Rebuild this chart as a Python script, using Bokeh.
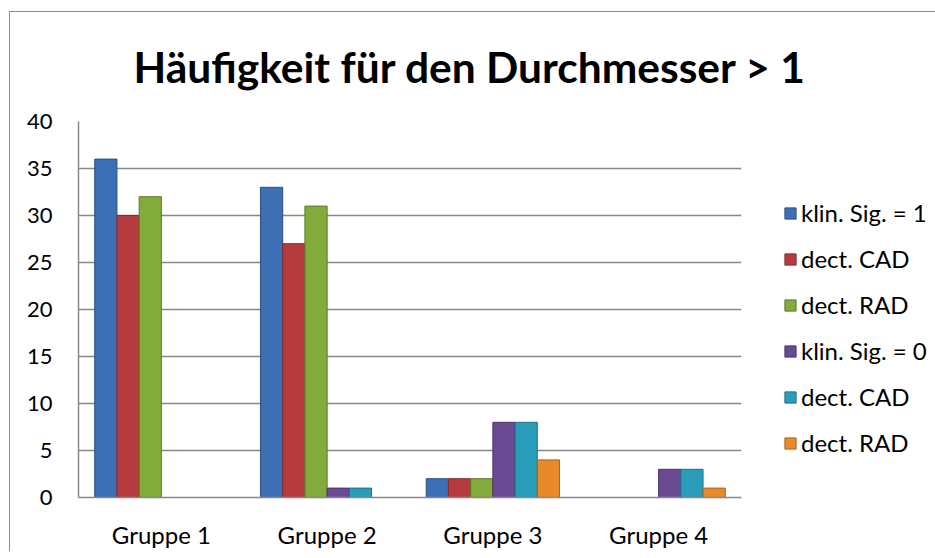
from bokeh.plotting import figure
from bokeh.models import (ColumnDataSource, FactorRange, Range1d, FixedTicker,
                          Legend, LegendItem, Title)
from bokeh.transform import dodge
from bokeh.embed import file_html
from bokeh.resources import INLINE

groups = ["Gruppe 1", "Gruppe 2", "Gruppe 3", "Gruppe 4"]
series_names = ["klin. Sig. = 1", "dect. CAD", "dect. RAD",
                "klin. Sig. = 0", "dect. CAD", "dect. RAD"]
klin_sig_1 = [36, 33, 2, 0]
dect_cad_1 = [30, 27, 2, 0]
dect_rad_1 = [32, 31, 2, 0]
klin_sig_0 = [0, 1, 8, 3]
dect_cad_0 = [0, 1, 8, 3]
dect_rad_0 = [0, 0, 4, 1]
y_ticks = [0, 5, 10, 15, 20, 25, 30, 35, 40]
title_text = "Häufigkeit für den Durchmesser > 1"

colors = ["#3D6FB5", "#B73A3E", "#82AB3B", "#6B4A94", "#2A9DBB", "#E98A2A"]
edges = ["#2A4F82", "#842A2D", "#5C7A29", "#4B336A", "#1D7086", "#A9631D"]

source = ColumnDataSource(data=dict(
    groups=groups, s0=klin_sig_1, s1=dect_cad_1, s2=dect_rad_1,
    s3=klin_sig_0, s4=dect_cad_0, s5=dect_rad_0))

FONT = "Lato"

p = figure(x_range=FactorRange(*groups, range_padding=0),
           y_range=Range1d(0, 40),
           frame_width=663, frame_height=376, output_backend="svg",
           toolbar_location=None,
           min_border_left=68, min_border_top=109,
           min_border_right=180, min_border_bottom=45)
p.outline_line_color = None
p.background_fill_color = "white"
p.border_fill_color = "white"
p.styles = {"margin-left": "9px", "margin-top": "11px",
            "border-left": "1px solid #8c8c8c", "border-top": "1px solid #8c8c8c"}

bw = 0.134
items = []
for k in range(6):
    r = p.vbar(x=dodge("groups", (k - 2.5) * bw, range=p.x_range),
               top="s%d" % k, width=bw, source=source,
               fill_color=colors[k], line_color=edges[k], line_width=1)
    items.append(LegendItem(label=series_names[k], renderers=[r]))

p.ygrid.ticker = FixedTicker(ticks=y_ticks)
p.ygrid.grid_line_color = "#888888"
p.ygrid.grid_line_width = 1.5
p.xgrid.grid_line_color = None

p.yaxis.ticker = FixedTicker(ticks=y_ticks)
p.yaxis.axis_line_color = "#888888"
p.yaxis.axis_line_width = 1.5
p.yaxis.major_tick_line_color = None
p.yaxis.minor_tick_line_color = None
p.yaxis.major_label_standoff = 20
p.yaxis.major_label_text_font = FONT
p.yaxis.major_label_text_font_size = "22px"
p.yaxis.major_label_text_color = "#000000"

p.xaxis.axis_line_color = "#888888"
p.xaxis.axis_line_width = 1.5
p.xaxis.major_tick_line_color = None
p.xaxis.minor_tick_line_color = None
p.xaxis.major_label_standoff = 16
p.xaxis.major_label_text_font = FONT
p.xaxis.major_label_text_font_size = "24px"
p.xaxis.major_label_text_color = "#000000"

legend = Legend(items=items, location=(42, 40), orientation="vertical",
                glyph_width=14, glyph_height=14, label_height=22,
                spacing=17, padding=0, margin=0, label_standoff=4,
                border_line_color=None, background_fill_alpha=0,
                label_text_font=FONT, label_text_font_size="24px",
                label_text_color="#000000")
p.add_layout(legend, "right")

title = Title(text=title_text, align="left", offset=55, standoff=56,
              vertical_align="top",
              text_font=FONT, text_font_style="bold", text_font_size="42.5px",
              text_color="#000000")
p.add_layout(title, "above")

open("out.html", "w").write(file_html(p, INLINE))
